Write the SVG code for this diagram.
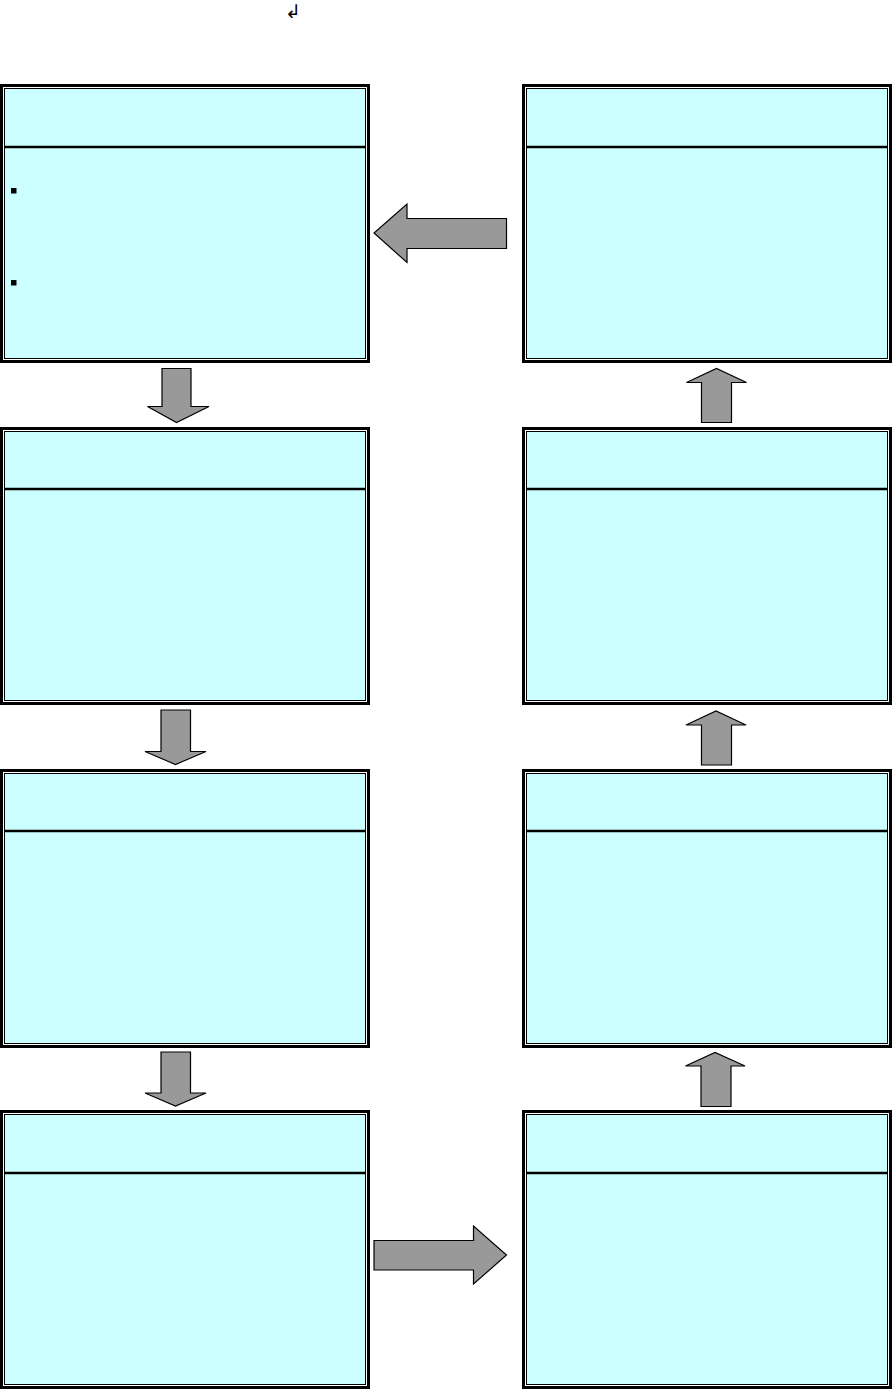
<svg xmlns="http://www.w3.org/2000/svg" width="893" height="1390" viewBox="0 0 893 1390">
<defs>
<style>
.outer{fill:#ffffff;stroke:#000000;stroke-width:3}
.inner{fill:#ccffff;stroke:#000000;stroke-width:1}
.div{stroke:#000000;stroke-width:2.5}
.arrow{fill:#999999;stroke:#000000;stroke-width:1.2;stroke-linejoin:miter}
.bullet{fill:#000000}
.mark{font-family:"DejaVu Sans",sans-serif;font-size:19px;fill:#000000}
</style>
</defs>
<rect width="893" height="1390" fill="#ffffff"/>
<text class="mark" x="285" y="18">↲</text>

<g id="box-l1">
<rect class="outer" x="1.5" y="85.5" width="367" height="276"/>
<rect class="inner" x="4.5" y="88.5" width="361" height="270"/>
<line class="div" x1="4" y1="147" x2="366" y2="147"/>
<rect class="bullet" x="11" y="188" width="5.5" height="5.5"/>
<rect class="bullet" x="11" y="280" width="5.5" height="5.5"/>
</g>
<g id="box-r1">
<rect class="outer" x="523.5" y="85.5" width="367" height="276"/>
<rect class="inner" x="526.5" y="88.5" width="361" height="270"/>
<line class="div" x1="526" y1="147" x2="888" y2="147"/>
</g>
<g id="box-l2">
<rect class="outer" x="1.5" y="428.5" width="367" height="275"/>
<rect class="inner" x="4.5" y="431.5" width="361" height="269"/>
<line class="div" x1="4" y1="489" x2="366" y2="489"/>
</g>
<g id="box-r2">
<rect class="outer" x="523.5" y="428.5" width="367" height="275"/>
<rect class="inner" x="526.5" y="431.5" width="361" height="269"/>
<line class="div" x1="526" y1="489" x2="888" y2="489"/>
</g>
<g id="box-l3">
<rect class="outer" x="1.5" y="770.5" width="367" height="276"/>
<rect class="inner" x="4.5" y="773.5" width="361" height="270"/>
<line class="div" x1="4" y1="831" x2="366" y2="831"/>
</g>
<g id="box-r3">
<rect class="outer" x="523.5" y="770.5" width="367" height="276"/>
<rect class="inner" x="526.5" y="773.5" width="361" height="270"/>
<line class="div" x1="526" y1="831" x2="888" y2="831"/>
</g>
<g id="box-l4">
<rect class="outer" x="1.5" y="1111.5" width="367" height="276"/>
<rect class="inner" x="4.5" y="1114.5" width="361" height="270"/>
<line class="div" x1="4" y1="1173" x2="366" y2="1173"/>
</g>
<g id="box-r4">
<rect class="outer" x="523.5" y="1111.5" width="367" height="276"/>
<rect class="inner" x="526.5" y="1114.5" width="361" height="270"/>
<line class="div" x1="526" y1="1173" x2="888" y2="1173"/>
</g>

<g id="connectors">
<polygon class="arrow" points="506.5,218.5 407,218.5 407,204 374,233 407,262.5 407,248.5 506.5,248.5"/>
<polygon class="arrow" points="162,368.5 191,368.5 191,406.5 209,406.5 176.5,422.5 147.5,406.5 162,406.5"/>
<polygon class="arrow" points="161,710 190.5,710 190.5,751.5 206,751.5 175.5,764.5 145,751.5 161,751.5"/>
<polygon class="arrow" points="161,1052 190.5,1052 190.5,1093 206,1093 175.5,1106 145,1093 161,1093"/>
<polygon class="arrow" points="701.5,422.5 731.5,422.5 731.5,382.5 746.5,382.5 716.5,368.5 686.5,382.5 701.5,382.5"/>
<polygon class="arrow" points="701.5,765 731.5,765 731.5,725 746,725 716,711 686,725 701.5,725"/>
<polygon class="arrow" points="701,1106.5 731,1106.5 731,1066 745,1066 715,1052.5 685.5,1066 701,1066"/>
<polygon class="arrow" points="374,1240.5 473.5,1240.5 473.5,1226 506.5,1255 473.5,1284 473.5,1270 374,1270"/>
</g>
</svg>
